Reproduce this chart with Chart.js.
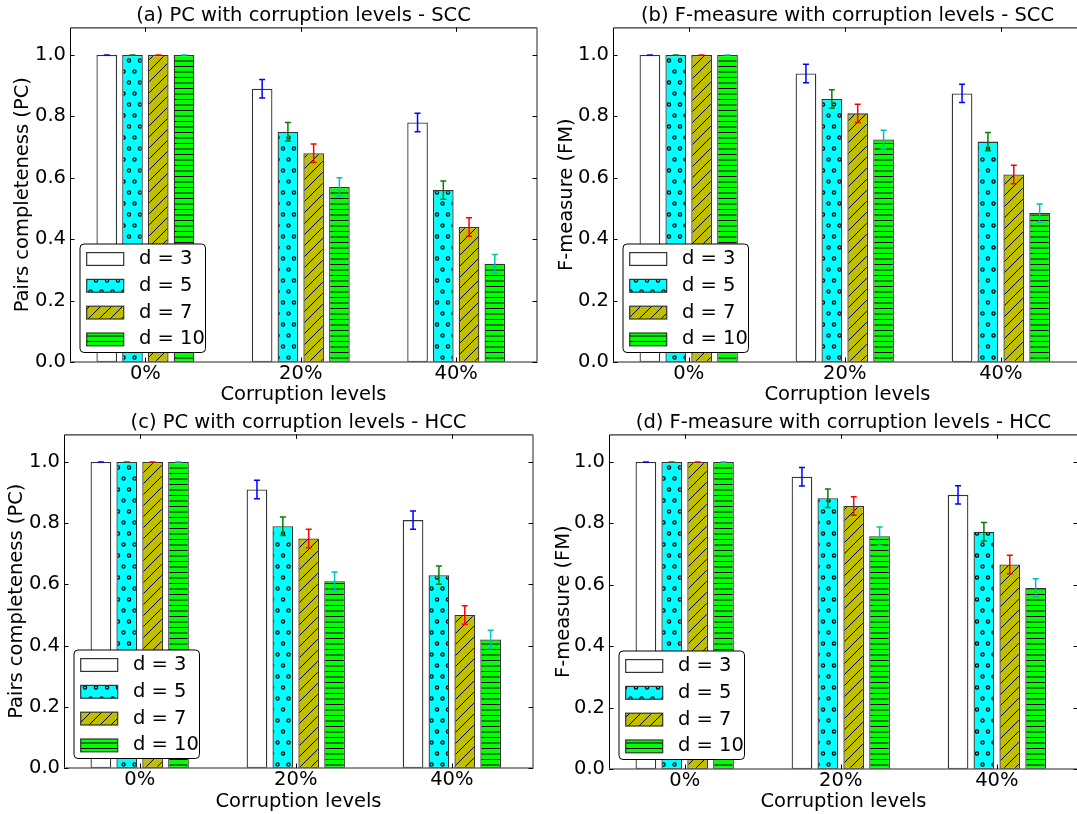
<!DOCTYPE html>
<html>
<head>
<meta charset="utf-8">
<script src="https://cdn.jsdelivr.net/npm/chart.js@4.4.1/dist/chart.umd.min.js"></script>
<style>
html, body { margin: 0; padding: 0; background: #fff; overflow: hidden; width: 1077px; height: 814px; }
canvas { position: absolute; }
</style>
</head>
<body>
<canvas id="cA" width="540" height="407" style="left:0;top:0"></canvas>
<canvas id="cB" width="545" height="407" style="left:540px;top:0"></canvas>
<canvas id="cC" width="540" height="407" style="left:0;top:407px"></canvas>
<canvas id="cD" width="545" height="407" style="left:540px;top:407px"></canvas>
<script>
// ── Data ─────────────────────────────────────────────────────────────────────
const levels  = ['0%', '20%', '40%'];
const dValues = [3, 5, 7, 10];
const yTicks  = [0.0, 0.2, 0.4, 0.6, 0.8, 1.0];
const errBar  = [0, 0.03, 0.03];

// (a) PC - SCC
const pcSccD3  = [1.0, 0.89, 0.78];
const pcSccD5  = [1.0, 0.75, 0.56];
const pcSccD7  = [1.0, 0.68, 0.44];
const pcSccD10 = [1.0, 0.57, 0.32];
// (b) F-measure - SCC
const fmSccD3  = [1.0, 0.94, 0.875];
const fmSccD5  = [1.0, 0.857, 0.718];
const fmSccD7  = [1.0, 0.81, 0.611];
const fmSccD10 = [1.0, 0.725, 0.485];
// (c) PC - HCC
const pcHccD3  = [1.0, 0.91, 0.81];
const pcHccD5  = [1.0, 0.79, 0.63];
const pcHccD7  = [1.0, 0.75, 0.50];
const pcHccD10 = [1.0, 0.61, 0.42];
// (d) F-measure - HCC
const fmHccD3  = [1.0, 0.952, 0.893];
const fmHccD5  = [1.0, 0.882, 0.773];
const fmHccD7  = [1.0, 0.857, 0.666];
const fmHccD10 = [1.0, 0.758, 0.590];

// ── Styles ───────────────────────────────────────────────────────────────────
const FAMILY = '"DejaVu Sans"';
const FSIZE = 19.5;
const font = { family: FAMILY, size: FSIZE };
const fills = ['#ffffff', '#00ffff', '#bfbf00', '#00ff00'];
const hatches = ['', 'o', '/', '-'];
const errColors = ['#0000ff', '#008000', '#ff0000', '#00bfbf'];

Chart.defaults.font.family = FAMILY;

function makePattern(kind, fill) {
  if (!kind) return fill;
  const c = document.createElement('canvas');
  c.width = 11; c.height = kind === 'o' ? 22 : 11;
  const g = c.getContext('2d');
  g.fillStyle = fill; g.fillRect(0, 0, c.width, c.height);
  g.strokeStyle = '#000'; g.fillStyle = '#000'; g.lineWidth = 1;
  if (kind === 'o') {
    g.lineWidth = 1.3;
    [[2.5, 5.5], [8, 16.5]].forEach(([x, y]) => {
      g.beginPath(); g.arc(x, y, 1.6, 0, Math.PI * 2); g.stroke();
    });
  } else if (kind === '/') {
    g.beginPath();
    g.moveTo(0, 11); g.lineTo(11, 0);
    g.moveTo(-1, 1); g.lineTo(1, -1);
    g.moveTo(10, 12); g.lineTo(12, 10);
    g.stroke();
  } else if (kind === '-') {
    g.fillRect(0, 0, 11, 1);
    g.fillRect(0, 5.5, 11, 1);
  }
  return g.createPattern(c, 'repeat');
}

const patterns = hatches.map((h, i) => makePattern(h, fills[i]));

// ── Decorations: error bars, frame with inward ticks, legend ─────────────────
const decor = {
  id: 'decor',
  afterDatasetsDraw(chart) {
    const { ctx, chartArea: a, scales: { x, y } } = chart;
    ctx.save();

    // error bars
    chart.data.datasets.forEach((ds, i) => {
      const meta = chart.getDatasetMeta(i);
      ctx.strokeStyle = errColors[i];
      ctx.lineWidth = 1.5;
      meta.data.forEach((bar, k) => {
        const v = ds.data[k].y, e = errBar[k];
        const y1 = y.getPixelForValue(v + e), y2 = y.getPixelForValue(v - e);
        ctx.beginPath();
        ctx.moveTo(bar.x, y1); ctx.lineTo(bar.x, y2);
        ctx.moveTo(bar.x - 3, y1); ctx.lineTo(bar.x + 3, y1);
        ctx.moveTo(bar.x - 3, y2); ctx.lineTo(bar.x + 3, y2);
        ctx.stroke();
      });
    });

    // frame
    ctx.lineWidth = 1;
    ctx.strokeStyle = '#000';
    ctx.beginPath();
    ctx.moveTo(a.left + 0.5, a.bottom); ctx.lineTo(a.left + 0.5, a.top + 0.5); ctx.lineTo(a.right, a.top + 0.5);
    ctx.stroke();
    ctx.strokeStyle = '#6e6e6e';
    ctx.lineWidth = 1.5;
    ctx.beginPath();
    ctx.moveTo(a.right, a.top); ctx.lineTo(a.right, a.bottom); ctx.lineTo(a.left, a.bottom);
    ctx.stroke();

    // inward ticks
    ctx.strokeStyle = '#000';
    ctx.lineWidth = 1;
    ctx.beginPath();
    yTicks.forEach(v => {
      const py = Math.round(y.getPixelForValue(v)) + 0.5;
      ctx.moveTo(a.left, py); ctx.lineTo(a.left + 4.5, py);
      ctx.moveTo(a.right, py); ctx.lineTo(a.right - 4.5, py);
    });
    levels.forEach((_, k) => {
      const px = Math.round(x.getPixelForValue(k)) + 0.5;
      ctx.moveTo(px, a.top); ctx.lineTo(px, a.top + 4.5);
      ctx.moveTo(px, a.bottom); ctx.lineTo(px, a.bottom - 4.5);
    });
    ctx.stroke();

    // legend (lower left)
    const bw = 125.5, bh = 108.5;
    const bx = a.left + 10, by = a.bottom - 9.5 - bh;
    ctx.beginPath();
    if (ctx.roundRect) ctx.roundRect(bx, by, bw, bh, 4); else ctx.rect(bx, by, bw, bh);
    ctx.fillStyle = '#fff'; ctx.fill();
    ctx.strokeStyle = '#000'; ctx.lineWidth = 1; ctx.stroke();
    ctx.font = FSIZE + 'px ' + FAMILY;
    ctx.textBaseline = 'middle';
    ctx.textAlign = 'left';
    dValues.forEach((d, i) => {
      const cy = by + 15 + i * 26.8;
      ctx.fillStyle = patterns[i];
      ctx.fillRect(bx + 6.7, cy - 6.4, 37, 12.8);
      ctx.strokeStyle = '#333'; ctx.lineWidth = 1.2;
      ctx.strokeRect(bx + 6.7, cy - 6.4, 37, 12.8);
      ctx.fillStyle = '#000';
      ctx.fillText('d = ' + d, bx + 59, cy);
    });

    ctx.restore();
  }
};

// ── Panels ───────────────────────────────────────────────────────────────────
function makePanel(id, title, ylabel, series, geo) {
  new Chart(document.getElementById(id), {
    type: 'bar',
    data: {
      datasets: series.map((vals, i) => ({
        label: 'd = ' + dValues[i],
        data: vals.map((v, k) => ({ x: k, y: v })),
        backgroundColor: patterns[i],
        borderColor: '#333',
        borderWidth: 1.3,
        borderSkipped: false,
        barPercentage: 0.8,
        categoryPercentage: 0.663
      }))
    },
    options: {
      responsive: false,
      animation: false,
      layout: { padding: { left: 0, right: geo.pr, top: 0, bottom: 0 } },
      plugins: {
        legend: { display: false },
        tooltip: { enabled: false },
        title: {
          display: true, text: title, color: '#000', fullSize: false,
          font: { family: FAMILY, size: FSIZE, weight: 'normal' },
          padding: { top: 4, bottom: 0 }
        }
      },
      scales: {
        x: {
          type: 'linear', min: -0.485, max: 2.52, offset: false,
          afterBuildTicks: s => { s.ticks = levels.map((_, k) => ({ value: k })); },
          ticks: { callback: v => levels[v], font, color: '#000', padding: 0, maxRotation: 0, autoSkip: false },
          grid: { display: false, drawTicks: false, offset: false },
          border: { display: false },
          title: { display: true, text: 'Corruption levels', font, color: '#000', padding: { top: 0, bottom: 0 } },
          afterFit: s => { s.height = geo.xh; }
        },
        y: {
          min: 0, max: 1.09,
          afterBuildTicks: s => { s.ticks = yTicks.map(v => ({ value: v })); },
          ticks: { callback: v => v.toFixed(1), font, color: '#000', padding: 4 },
          grid: { display: false, drawTicks: false },
          border: { display: false },
          title: { display: true, text: ylabel, font, color: '#000', padding: { top: geo.yt, bottom: 0 } },
          afterFit: s => { s.width = geo.yw; }
        }
      }
    },
    plugins: [decor]
  });
}

makePanel('cA', '(a) PC with corruption levels - SCC', 'Pairs completeness (PC)',
  [pcSccD3, pcSccD5, pcSccD7, pcSccD10], { yw: 70, yt: 11.5, xh: 45, pr: 3 });
makePanel('cB', '(b) F-measure with corruption levels - SCC', 'F-measure (FM)',
  [fmSccD3, fmSccD5, fmSccD7, fmSccD10], { yw: 73, yt: 15.5, xh: 45, pr: 3 });
makePanel('cC', '(c) PC with corruption levels - HCC', 'Pairs completeness (PC)',
  [pcHccD3, pcHccD5, pcHccD7, pcHccD10], { yw: 64, yt: 5.5, xh: 46, pr: 7 });
makePanel('cD', '(d) F-measure with corruption levels - HCC', 'F-measure (FM)',
  [fmHccD3, fmHccD5, fmHccD7, fmHccD10], { yw: 69, yt: 12.3, xh: 45, pr: 7 });
</script>
</body>
</html>
